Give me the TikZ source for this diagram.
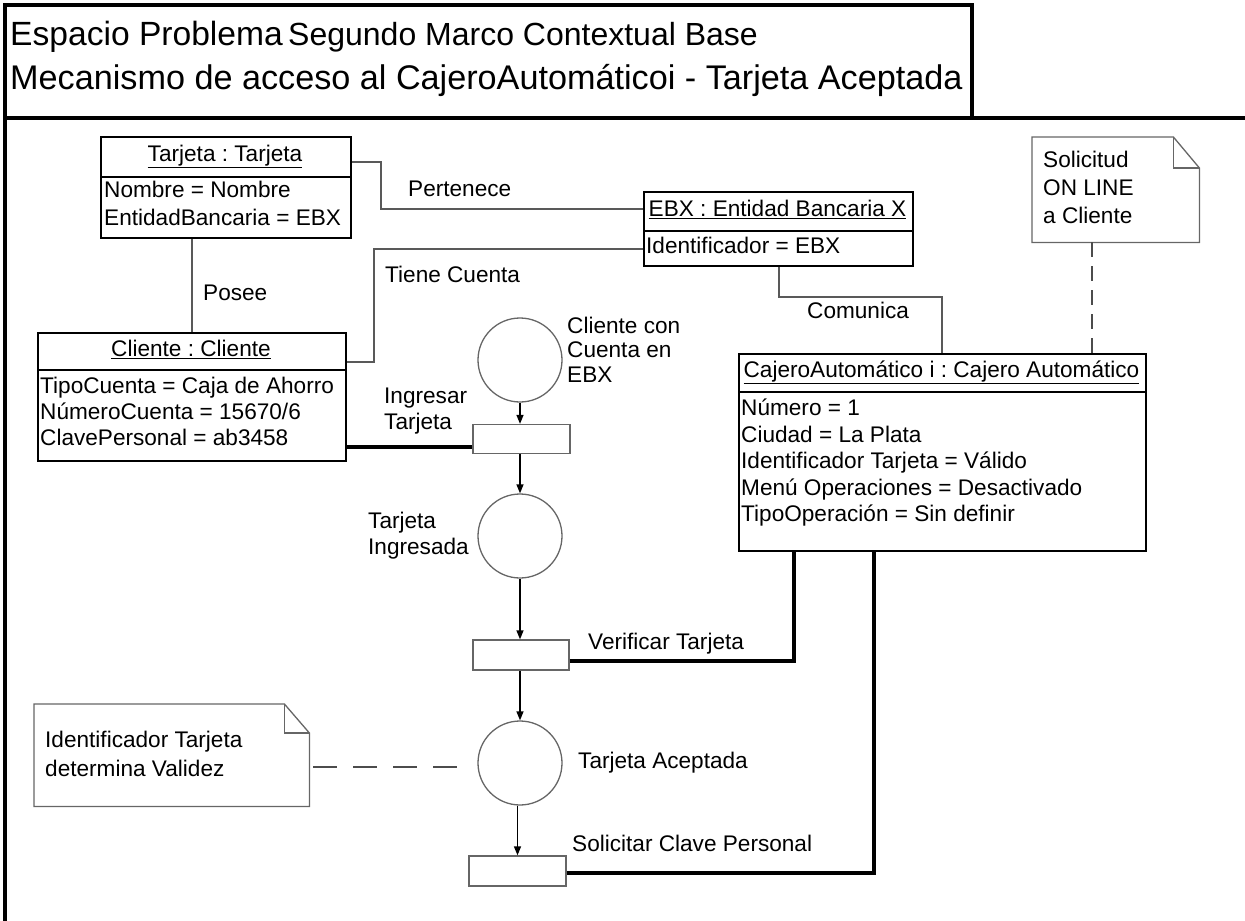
\documentclass[tikz,border=0pt]{standalone}
\usepackage{fontspec}
\setmainfont{Liberation Sans}
\usetikzlibrary{arrows.meta}
\frenchspacing
\begin{document}
\begin{tikzpicture}[x=1pt,y=1pt,
  txt/.style={font=\fontsize{22.6}{26}\selectfont, inner sep=0pt, text height=16pt, text depth=5pt},
  attr/.style={txt, anchor=west},
  ttl/.style={anchor=base west, inner sep=0pt},
  objbox/.style={draw=black, line width=2pt, anchor=north west, inner sep=0pt},
  divider/.style={draw=black, line width=2pt},
  assoc/.style={draw=black!65, line width=1.5pt},
  flow/.style={draw=black, line width=1.3pt, -{Triangle[length=9pt,width=7pt]}},
  thickarc/.style={draw=black, line width=4pt},
  place/.style={circle, draw=black!60, line width=1.3pt, minimum size=84pt, inner sep=0pt},
  trans/.style={rectangle, draw=black!60, line width=1.3pt, minimum height=30pt, inner sep=0pt},
  notebox/.style={draw=none, anchor=north west, inner sep=0pt},
  noteline/.style={draw=black!60, line width=1.3pt, line join=miter},
  dashlink/.style={draw=black!70, line width=1.5pt, dash pattern=on 15pt off 9pt},
  dashlinkwide/.style={draw=black!70, line width=1.5pt, dash pattern=on 24pt off 16pt},
  frame/.style={draw=black, line width=4.5pt},
]
\useasboundingbox (0,0) rectangle (1245,-921);

% outer frame and title block
\draw[frame] (5,-921) -- (5,-5) -- (972,-5) -- (972,-118);
\draw[frame] (5,-118) -- (1245,-118);
\node[ttl, font=\fontsize{33.6}{38}\selectfont] (ttlA) at (10,-45) {Espacio Problema};
\node[ttl, font=\fontsize{32}{38}\selectfont] (ttlB) at (288,-45) {Segundo Marco Contextual Base};
\node[ttl, font=\fontsize{34.2}{40}\selectfont] (ttlC) at (10,-89) {Mecanismo de acceso al CajeroAutomáticoi - Tarjeta Aceptada};

% object: Tarjeta
\node[objbox, minimum width=250pt, minimum height=101pt] (tarjeta) at (100,-136) {};
\draw[divider] ([yshift=-41pt]tarjeta.north west) -- ([yshift=-41pt]tarjeta.north east);
\node[txt] (tarjetaH) at (225,-156) {\underline{Tarjeta : Tarjeta}};
\node[attr] (tarjetaA1) at (104,-192) {Nombre = Nombre};
\node[attr] (tarjetaA2) at (104,-220) {EntidadBancaria = EBX};

% object: EBX
\node[objbox, minimum width=269pt, minimum height=74pt] (ebx) at (643,-191) {};
\draw[divider] ([yshift=-40pt]ebx.north west) -- ([yshift=-40pt]ebx.north east);
\node[txt] (ebxH) at (777.5,-211) {\underline{EBX : Entidad Bancaria X}};
\node[attr] (ebxA1) at (646,-248) {Identificador = EBX};

% object: Cliente
\node[objbox, minimum width=308pt, minimum height=128pt] (cliente) at (37,-332) {};
\draw[divider] ([yshift=-38pt]cliente.north west) -- ([yshift=-38pt]cliente.north east);
\node[txt] (clienteH) at (191,-351) {\underline{Cliente : Cliente}};
\node[attr] (clienteA1) at (40,-388) {TipoCuenta = Caja de Ahorro};
\node[attr] (clienteA2) at (40,-414) {NúmeroCuenta = 15670/6};
\node[attr] (clienteA3) at (40,-440) {ClavePersonal = ab3458};

% object: Cajero Automatico
\node[objbox, minimum width=407pt, minimum height=197pt] (cajero) at (738,-353) {};
\draw[divider] ([yshift=-39pt]cajero.north west) -- ([yshift=-39pt]cajero.north east);
\node[txt] (cajeroH) at (941.5,-372) {\underline{CajeroAutomático i : Cajero Automático}};
\node[attr] (cajeroA1) at (741,-410) {Número = 1};
\node[attr] (cajeroA2) at (741,-437) {Ciudad = La Plata};
\node[attr] (cajeroA3) at (741,-463) {Identificador Tarjeta = Válido};
\node[attr] (cajeroA4) at (741,-490) {Menú Operaciones = Desactivado};
\node[attr] (cajeroA5) at (741,-516) {TipoOperación = Sin definir};

% associations
\draw[assoc] (tarjeta.east |- 0,-162) -| (381,-209) -- (ebx.west |- 0,-209);
\node[attr] (lPertenece) at (408,-191) {Pertenece};
\draw[assoc] (cliente.east |- 0,-362) -| (374,-249) -- (ebx.west |- 0,-249);
\node[attr] (lTiene) at (385,-277) {Tiene Cuenta};
\draw[assoc] (cliente.north) -- (cliente.north |- tarjeta.south);
\node[attr] (lPosee) at (203,-295) {Posee};
\draw[assoc] (ebx.south -| 779,0) |- (942,-297) -- (cajero.north -| 942,0);
\node[attr] (lComunica) at (807,-313) {Comunica};

% notes
\node[notebox, minimum width=167pt, minimum height=105pt] (note1) at (1032,-137) {};
\draw[noteline] (note1.north west) -- ([xshift=-26pt]note1.north east) -- ([yshift=-31pt]note1.north east)
  -- (note1.south east) -- (note1.south west) -- cycle;
\draw[noteline] ([xshift=-26pt]note1.north east) -- ++(0,-31) -- ([yshift=-31pt]note1.north east);
\node[attr] (note1L1) at (1043,-162) {Solicitud};
\node[attr] (note1L2) at (1043,-190) {ON LINE};
\node[attr] (note1L3) at (1043,-218) {a Cliente};
\draw[dashlink] (note1.south -| 1092,0) -- (cajero.north -| 1092,0);

\node[notebox, minimum width=275pt, minimum height=102pt] (note2) at (34,-704) {};
\draw[noteline] (note2.north west) -- ([xshift=-25pt]note2.north east) -- ([yshift=-29pt]note2.north east)
  -- (note2.south east) -- (note2.south west) -- cycle;
\draw[noteline] ([xshift=-25pt]note2.north east) -- ++(0,-29) -- ([yshift=-29pt]note2.north east);
\node[attr] (note2L1) at (45,-742) {Identificador Tarjeta};
\node[attr] (note2L2) at (45,-771) {determina Validez};

% places and transitions
\node[place] (p1) at (520,-360) {};
\node[place] (p2) at (520,-536) {};
\node[place] (p3) at (520,-763) {};
\node[trans, minimum width=97pt, minimum height=29pt] (tr1) at (521.5,-439) {};
\node[trans, minimum width=96pt] (tr2) at (521,-655) {};
\node[trans, minimum width=97pt] (tr3) at (517.5,-871) {};

\draw[dashlinkwide] ([xshift=4pt]note2.east |- 0,-767) -- ([xshift=-13pt]p3.west |- 0,-767);

\node[attr] (lp1a) at (567,-328) {Cliente con};
\node[attr] (lp1b) at (567,-352) {Cuenta en};
\node[attr] (lp1c) at (567,-377) {EBX};
\node[attr] (lt1a) at (384,-398) {Ingresar};
\node[attr] (lt1b) at (384,-424) {Tarjeta};
\node[attr] (lp2a) at (368,-523) {Tarjeta};
\node[attr] (lp2b) at (368,-549) {Ingresada};
\node[attr] (lt2) at (588,-644) {Verificar Tarjeta};
\node[attr] (lp3) at (578,-763) {Tarjeta Aceptada};
\node[attr] (lt3) at (572,-846) {Solicitar Clave Personal};

% flow arcs
\draw[flow] (p1.south) -- (tr1.north -| p1.south);
\draw[flow] (tr1.south -| p2.north) -- (p2.north);
\draw[flow] (p2.south) -- (tr2.north -| p2.south);
\draw[flow] (tr2.south -| p3.north) -- (p3.north);
\draw[flow] (tr3.north |- p3.south) -- (tr3.north);

% links to the objects
\draw[thickarc] (cliente.east |- 0,-447) -- (tr1.west |- 0,-447);
\draw[thickarc] (tr2.east |- 0,-661) -| (cajero.south -| 794,0);
\draw[thickarc] (tr3.east |- 0,-873) -| (cajero.south -| 874,0);
\end{tikzpicture}
\end{document}
